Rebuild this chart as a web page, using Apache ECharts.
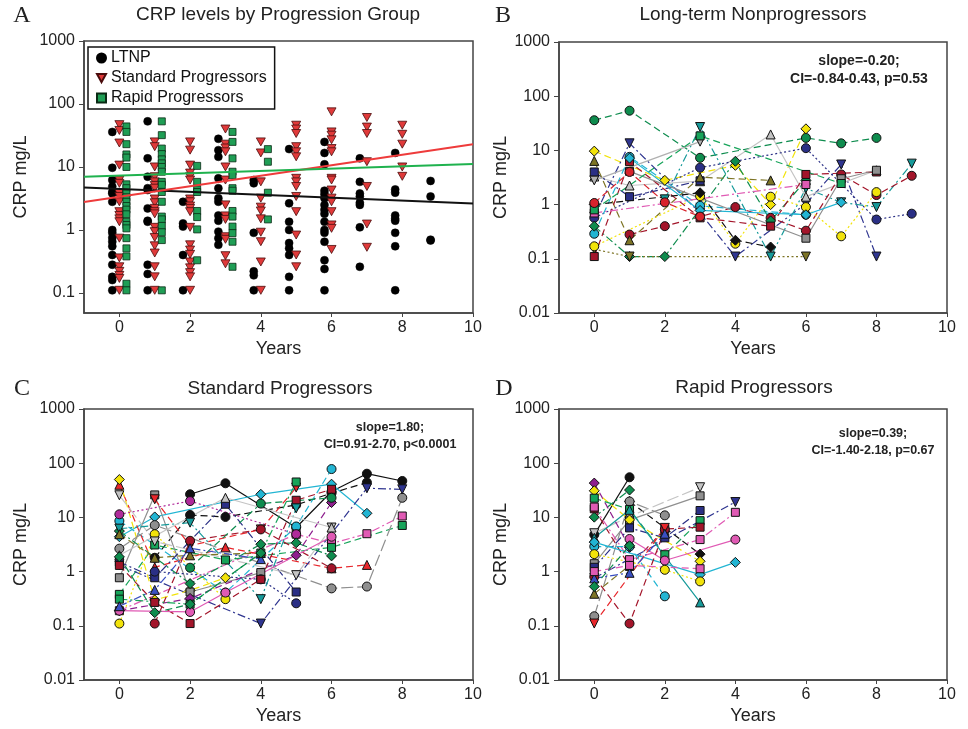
<!DOCTYPE html>
<html lang="en">
<head>
<meta charset="UTF-8">
<title>CRP levels by progression group</title>
<script src="https://cdn.jsdelivr.net/npm/echarts@6/dist/echarts.min.js"></script>
<style>
  html,body{margin:0;padding:0;background:#fff;}
  #main{width:968px;height:729px;}
</style>
</head>
<body>
<div id="main"></div>
<script>
// ---- data ----
var years = [0, 1, 2, 3, 4, 5, 6, 7, 8, 9];
var xTicks = [0, 2, 4, 6, 8, 10];
var yTicksA = [0.1, 1, 10, 100, 1000];
var yTicksBCD = [0.01, 0.1, 1, 10, 100, 1000];

// panel A: CRP values per year, one list per group
var ltnpA = [
  [36, 9.7, 6.2, 4.9, 4, 3.8, 2.8, 1, 0.9, 0.75, 0.65, 0.55, 0.4, 0.28, 0.18, 0.16, 0.11],
  [53, 13.7, 7, 4.6, 4.3, 2.2, 1.4, 1.35, 0.28, 0.2, 0.11],
  [2.8, 1.27, 1.13, 0.4, 0.11],
  [28, 18.5, 14.5, 6.6, 4.6, 3.2, 2.8, 1.7, 1.4, 0.94, 0.74, 0.58],
  [6.2, 5.5, 0.9, 0.22, 0.19, 0.11],
  [19.2, 2.65, 1.35, 1, 0.62, 0.51, 0.4, 0.18, 0.11],
  [25, 16.7, 11, 4.2, 3.7, 3.2, 2.5, 2.1, 1.8, 1.35, 1, 0.9, 0.65, 0.33, 0.24, 0.11],
  [13.7, 5.8, 3.8, 3.4, 2.7, 2.5, 1.1, 0.26],
  [16.7, 4.4, 3.9, 1.7, 1.5, 1.4, 0.9, 0.55, 0.11],
  [6, 3.4, 0.7, 0.68]
];
var spA = [
  [47, 38, 24, 10.7, 6.2, 5.5, 3.8, 3.4, 2.8, 1.95, 1.7, 1.5, 1.35, 0.74, 0.36, 0.26, 0.22, 0.19, 0.17, 0.11],
  [25, 21, 10, 7, 5.8, 5.1, 4.6, 3.1, 2.7, 2.2, 1.95, 1.8, 1.1, 0.94, 0.76, 0.56, 0.43, 0.26, 0.18, 0.11],
  [25, 18.5, 10.7, 8, 7, 6.2, 3.1, 2.8, 2.4, 2.2, 1.95, 1.1, 0.58, 0.48, 0.41, 0.31, 0.25, 0.21, 0.18, 0.11],
  [40, 23, 20, 17.4, 10, 6.2, 2.5, 1.67, 1.47, 0.78, 0.71, 0.39, 0.29],
  [25, 16.7, 5.8, 3.2, 2.3, 2.0, 1.5, 0.92, 0.65, 0.31, 0.11],
  [46, 40, 34, 21, 17.4, 14.5, 6.6, 5.8, 4.9, 3.4, 1.95, 0.83, 0.4, 0.26],
  [75, 36, 32, 27, 19.6, 17.4, 6.6, 6.2, 4.3, 3.2, 2.8, 1.95, 1.2, 1.06, 0.49],
  [61, 43, 34, 12.1, 4.9, 1.24, 0.53],
  [46, 33, 23, 10, 7.1],
  []
];
var rpA = [
  [44, 36, 23, 15.8, 14.1, 10, 5.3, 4.6, 3.8, 3.3, 2.8, 2.4, 2.1, 1.77, 1.35, 1.2, 1.06, 0.74, 0.51, 0.38, 0.14, 0.11],
  [53, 32, 19.6, 16, 13.2, 11.4, 10, 8.4, 5.8, 5.2, 4.0, 2.8, 1.63, 1.47, 1.16, 0.92, 0.69, 0.11],
  [10.4, 5.8, 4.4, 4.0, 2.0, 1.6, 1.02, 0.33],
  [36, 25, 13.7, 8.4, 7.4, 4.6, 4.2, 2.0, 1.63, 1.13, 0.89, 0.65, 0.26],
  [19.2, 12.1, 3.9, 1.47]
];
// regression lines in panel A (value at x=-1 and x=10)
var fitX = [-1, 10];
var fitLtnp = [4.74, 2.64];
var fitSp = [2.78, 23];
var fitRp = [7.0, 11.1];

// panel B: long-term nonprogressors, one list of [year, CRP] per subject
var ltnpSubjects = [
  [[0, 36], [1, 54], [3, 7.3], [6, 17], [7, 13.5], [8, 17]],
  [[0, 9.7], [2, 2.8], [4, 5.3], [5, 1.0], [6, 25]],
  [[0, 0.6], [1, 13.5], [3, 0.7], [4, 0.11], [6, 1.04], [7, 5.5], [8, 0.11]],
  [[2, 1.25], [3, 27], [5, 0.11], [6, 2.0], [7, 1.1], [8, 0.9], [9, 5.7]],
  [[0, 3.3], [1, 2.25], [3, 2.7], [5, 19.7], [6, 1.4], [8, 4.3]],
  [[0, 2.8], [3, 14.5]],
  [[0, 0.57], [3, 4.8], [6, 11], [8, 0.53], [9, 0.68]],
  [[1, 0.28], [2, 0.4], [4, 0.9], [5, 0.57], [6, 0.33], [7, 3.6], [8, 1.5], [9, 3.4]],
  [[0, 4.0], [1, 1.4], [3, 2.75]],
  [[0, 0.29], [1, 7.6], [3, 0.95], [6, 0.65]],
  [[0, 0.4], [1, 0.11], [2, 0.11], [4, 6.3], [5, 0.5], [6, 2.8]],
  [[0, 6.4], [1, 0.22], [3, 3.2], [5, 2.8]],
  [[0, 0.15], [1, 0.11], [6, 0.11]],
  [[0, 0.17], [3, 1.43], [4, 0.19], [5, 1.4], [6, 0.9], [7, 0.26], [8, 1.7]],
  [[0, 0.11], [1, 6.2], [3, 0.57], [5, 0.4], [6, 3.6], [8, 4.0]],
  [[0, 0.7], [6, 2.35]],
  [[0, 1.0], [3, 1.65], [4, 0.22], [5, 0.165]],
  [[1, 4.1], [6, 0.24], [7, 3.0], [8, 4.3]],
  [[0, 0.8], [3, 18.5], [7, 2.45]],
  [[1, 7.2], [3, 0.78], [6, 0.65], [7, 1.1]],
  [[0, 1.07], [1, 4.0], [2, 1.1], [3, 0.6]]
];
var ltnpLooks = ['greenC', 'yellowD', 'navyDT', 'tealDT', 'lgrayT', 'grayDT', 'navyC', 'dredC', 'navyS', 'cyanC',
  'greenD', 'oliveT', 'oliveDT', 'yellowC', 'dredS', 'pinkS', 'blackD', 'grayS', 'greenS', 'cyanD', 'redC'];

// panel C: standard progressors
var spSubjects = [
  [[2, 26.7], [3, 42.6], [5, 6.5], [6, 30], [7, 64], [8, 47]],
  [[1, 1.8], [2, 11.1], [3, 10.2], [5, 17], [6, 28], [7, 44]],
  [[0, 4.4], [1, 10.2], [4, 26.7], [6, 41], [7, 11.9]],
  [[0, 8.6], [3, 0.41], [5, 6.8], [6, 78]],
  [[0, 0.19], [5, 4.9], [6, 3.3], [7, 5.0], [8, 10.6]],
  [[0, 0.38], [1, 3.1], [3, 1.64], [6, 2.8], [8, 7.1]],
  [[0, 2.65], [1, 7.2], [6, 0.49], [7, 0.53], [8, 23]],
  [[0, 40], [1, 1.2], [3, 2.8], [6, 1.15], [7, 1.33]],
  [[0, 1.3], [4, 0.11], [7, 34.5], [8, 33]],
  [[0, 50], [1, 0.3], [2, 0.45], [3, 0.77]],
  [[0, 0.11], [1, 4.9], [3, 0.31]],
  [[0, 0.77], [1, 26], [2, 0.42], [4, 0.96]],
  [[1, 21.6], [2, 3.0], [4, 6.0], [5, 35.5]],
  [[0, 11.4], [2, 20], [5, 4.9]],
  [[0, 1.5], [1, 0.77], [3, 17.5], [5, 0.42]],
  [[1, 1.0], [4, 0.72], [5, 0.26]],
  [[0, 5.6], [2, 0.6], [4, 3.2], [5, 3.4], [6, 1.95]],
  [[0, 0.19], [2, 0.32], [5, 2.0], [6, 18.8]],
  [[0, 25.6], [1, 3.6], [5, 0.86], [6, 6.5]],
  [[0, 1.3], [1, 0.27], [2, 0.11], [4, 0.72], [5, 20.7], [6, 33]],
  [[1, 0.11], [2, 3.7], [4, 6.0], [6, 1.15]],
  [[2, 1.18], [4, 18], [6, 23]],
  [[0, 6.2], [2, 8.0], [4, 0.31], [5, 14.7]],
  [[0, 4.9], [1, 1.8], [2, 2.0], [4, 2.2]],
  [[0, 2.0], [3, 23], [6, 6.5]],
  [[0, 0.31], [2, 0.25], [4, 2.2], [5, 45]],
  [[0, 0.19], [2, 0.18], [3, 0.41], [6, 4.4]],
  [[0, 0.23], [1, 0.46], [2, 2.7], [4, 1.7]],
  [[0, 1.87], [1, 0.175], [2, 0.25], [4, 2.2]]
];
var spLooks = ['blackC', 'blackC2', 'cyanD', 'cyanC', 'pinkS', 'greenS', 'grayC', 'redT', 'navyDT', 'yellowD',
  'yellowC', 'grayS', 'redDT', 'magC', 'navyS', 'navyC', 'greenD', 'purpD', 'lgrayDT', 'dredS',
  'dredC', 'greenC', 'tealDT', 'oliveT', 'lgrayT', 'greenS2', 'pinkC', 'blueT', 'greenD2'];

// panel D: rapid progressors
var rpSubjects = [
  [[0, 4.8], [1, 55]],
  [[1, 19.7], [3, 2.1]],
  [[0, 0.15], [1, 19.7], [2, 10.9]],
  [[0, 1.4], [1, 9], [3, 25]],
  [[0, 5.1], [1, 10.4], [3, 36]],
  [[0, 10.1], [1, 32]],
  [[0, 43], [1, 2.8]],
  [[0, 31], [1, 9], [3, 1.55]],
  [[0, 22.6], [1, 14], [2, 2.05], [3, 8.7]],
  [[0, 14.4], [1, 1.25], [2, 6.1], [3, 6.6]],
  [[0, 1.2], [1, 6.4], [2, 4.2], [3, 13.4]],
  [[0, 0.76], [4, 19.2]],
  [[0, 15.5], [1, 1.66], [3, 3.9], [4, 12.4]],
  [[1, 4.0], [2, 1.6], [4, 3.9]],
  [[0, 2.9], [1, 2.9], [2, 0.35]],
  [[0, 4.2], [1, 13.8], [3, 0.27]],
  [[0, 3.5], [3, 0.88], [4, 1.48]],
  [[0, 0.8], [1, 0.11], [2, 6.0]],
  [[0, 0.11], [2, 6.4]],
  [[0, 2.1], [2, 1.08], [3, 0.66]],
  [[0, 0.39], [1, 1.3]],
  [[0, 0.75], [1, 0.95], [2, 5]],
  [[0, 1.0], [1, 1.3], [3, 1.13]],
  [[0, 0.53], [1, 3.0]]
];
var rpLooks = ['blackC', 'blackD', 'grayC', 'grayS', 'lgrayDT', 'greenD', 'purpD', 'yellowD', 'greenS', 'dredS',
  'navyS', 'navyDT', 'pinkS', 'pinkC', 'cyanC', 'tealT', 'cyanD', 'dredC', 'redDT', 'yellowC',
  'oliveT', 'blueT', 'pinkS2', 'greenD2'];

var titles = ['CRP levels by Progression Group', 'Long-term Nonprogressors', 'Standard Progressors', 'Rapid Progressors'];
var letters = ['A', 'B', 'C', 'D'];
var stats = [
  null,
  ['slope=-0.20;', 'CI=-0.84-0.43, p=0.53'],
  ['slope=1.80;', 'CI=0.91-2.70, p<0.0001'],
  ['slope=0.39;', 'CI=-1.40-2.18, p=0.67']
];

// ---- styles ----
var FONT = 'Liberation Sans, Arial, sans-serif';
var DOWN = 'path://M0,0L12,0L6,11Z';
var DASH = [7, 4], DASHDOT = [8, 3, 2, 3], DOT = [2, 2.5], LONG = [12, 4], DDOT = [8, 3, 2, 3, 2, 3];
var looks = {
  greenC: {c: '#0e8c4e', s: 'circle', d: DASH},
  greenD: {c: '#0e8c4e', s: 'diamond', d: DASHDOT},
  greenD2: {c: '#0e8c4e', s: 'diamond', d: DASH},
  greenS: {c: '#17a45a', s: 'rect', d: DASH},
  greenS2: {c: '#17a45a', s: 'rect', d: DASHDOT},
  yellowD: {c: '#f2e30a', s: 'diamond', d: DASH},
  yellowC: {c: '#f2e30a', s: 'circle', d: DOT},
  navyDT: {c: '#2f3590', s: DOWN, d: DASHDOT},
  navyC: {c: '#2a2f85', s: 'circle', d: DOT},
  navyS: {c: '#2a2f85', s: 'rect', d: DASHDOT},
  tealDT: {c: '#169a9a', s: DOWN, d: DDOT},
  tealT: {c: '#169a9a', s: 'triangle', d: 'solid'},
  lgrayT: {c: '#c4c4c4', s: 'triangle', d: 'solid'},
  lgrayDT: {c: '#c4c4c4', s: DOWN, d: LONG},
  grayDT: {c: '#b0b0b0', s: DOWN, d: 'solid'},
  grayS: {c: '#8f8f8f', s: 'rect', d: 'solid'},
  grayC: {c: '#8f8f8f', s: 'circle', d: LONG},
  dredC: {c: '#a3152a', s: 'circle', d: DASH},
  dredS: {c: '#a3152a', s: 'rect', d: DASH},
  redC: {c: '#d8242c', s: 'circle', d: DASH},
  redT: {c: '#e8262b', s: 'triangle', d: DASH},
  redDT: {c: '#e8262b', s: DOWN, d: DASH},
  cyanC: {c: '#22b5d3', s: 'circle', d: DASH},
  cyanD: {c: '#22b5d3', s: 'diamond', d: 'solid'},
  pinkS: {c: '#e05ab4', s: 'rect', d: DASHDOT},
  pinkS2: {c: '#e05ab4', s: 'rect', d: DASH},
  pinkC: {c: '#e05ab4', s: 'circle', d: 'solid'},
  magC: {c: '#b02a9a', s: 'circle', d: DOT},
  purpD: {c: '#8e1f8e', s: 'diamond', d: DASH},
  oliveT: {c: '#7d7425', s: 'triangle', d: DASH},
  oliveDT: {c: '#7d7425', s: DOWN, d: DOT},
  blackC: {c: '#111111', s: 'circle', d: 'solid'},
  blackC2: {c: '#111111', s: 'circle', d: DASH},
  blackD: {c: '#111111', s: 'diamond', d: DASH},
  blueT: {c: '#3a4fc2', s: 'triangle', d: DASHDOT}
};

var grids = [
  {left: 84, top: 41, width: 389, height: 272},
  {left: 559, top: 42, width: 388, height: 271},
  {left: 84, top: 409, width: 389, height: 271},
  {left: 559, top: 409, width: 388, height: 271}
];
var nameGaps = [54, 46, 54, 46];

function fmt(v) { return String(+(+v).toPrecision(3)); }

var xAxes = [], yAxes = [];
grids.forEach(function (g, i) {
  xAxes.push({
    gridIndex: i, type: 'value', min: -1, max: 10,
    name: 'Years', nameLocation: 'middle', nameGap: 27,
    nameTextStyle: {fontSize: 18, color: '#222', fontFamily: FONT},
    axisLine: {onZero: false, lineStyle: {color: '#444', width: 1.5}},
    axisTick: {length: 4, customValues: xTicks, lineStyle: {color: '#444'}},
    axisLabel: {customValues: xTicks, fontSize: 16, color: '#222', fontFamily: FONT, margin: 7},
    splitLine: {show: false}
  });
  var yt = i === 0 ? yTicksA : yTicksBCD;
  yAxes.push({
    gridIndex: i, type: 'log', logBase: 10, min: i === 0 ? 0.048 : 0.01, max: 1000,
    name: 'CRP mg/L', nameLocation: 'middle', nameGap: nameGaps[i],
    nameTextStyle: {fontSize: 18, color: '#222', fontFamily: FONT},
    axisLine: {show: true, onZero: false, lineStyle: {color: '#444', width: 1.5}},
    axisTick: {show: true, length: 5, customValues: yt, lineStyle: {color: '#444'}},
    axisLabel: {customValues: yt, fontSize: 16, color: '#222', fontFamily: FONT, margin: 9, formatter: fmt},
    minorTick: {show: false},
    splitLine: {show: false}
  });
});

function spread(byYear, off) {
  var out = [];
  byYear.forEach(function (vals, i) {
    vals.forEach(function (v) { out.push([years[i] + off, v]); });
  });
  return out;
}
function fitLine(vals) { return fitX.map(function (x, i) { return [x, vals[i]]; }); }

var series = [
  {name: 'LTNP', type: 'scatter', xAxisIndex: 0, yAxisIndex: 0, symbol: 'circle', symbolSize: 8,
    itemStyle: {color: '#000', borderColor: '#000', borderWidth: 0.5, opacity: 1}, data: spread(ltnpA, -0.2)},
  {name: 'Standard Progressors', type: 'scatter', xAxisIndex: 0, yAxisIndex: 0, symbol: DOWN, symbolSize: [9, 8],
    itemStyle: {color: '#e03a3a', borderColor: '#4a0c0c', borderWidth: 0.8, opacity: 1}, data: spread(spA, 0)},
  {name: 'Rapid Progressors', type: 'scatter', xAxisIndex: 0, yAxisIndex: 0, symbol: 'rect', symbolSize: 7,
    itemStyle: {color: '#1f9e55', borderColor: '#0a2a14', borderWidth: 0.8, opacity: 1}, data: spread(rpA, 0.2)},
  {type: 'line', xAxisIndex: 0, yAxisIndex: 0, symbol: 'none', z: 5, silent: true,
    lineStyle: {color: '#111', width: 2}, data: fitLine(fitLtnp)},
  {type: 'line', xAxisIndex: 0, yAxisIndex: 0, symbol: 'none', z: 5, silent: true,
    lineStyle: {color: '#ee3b3b', width: 2}, data: fitLine(fitSp)},
  {type: 'line', xAxisIndex: 0, yAxisIndex: 0, symbol: 'none', z: 5, silent: true,
    lineStyle: {color: '#1fb24e', width: 2}, data: fitLine(fitRp)}
];

function addSubjects(list, lookNames, idx) {
  list.forEach(function (pts, k) {
    var lk = looks[lookNames[k % lookNames.length]];
    var size = lk.s === 'rect' ? 8 : (lk.s === 'diamond' ? 10 : 9);
    series.push({
      type: 'line', xAxisIndex: idx, yAxisIndex: idx, data: pts,
      symbol: lk.s, symbolSize: size, showAllSymbol: true, silent: true,
      itemStyle: {color: lk.c, borderColor: '#111', borderWidth: 1},
      lineStyle: {color: lk.c, width: 1.2, type: lk.d}
    });
  });
}
addSubjects(ltnpSubjects, ltnpLooks, 1);
addSubjects(spSubjects, spLooks, 2);
addSubjects(rpSubjects, rpLooks, 3);

// titles, panel letters and statistics as text
var graphic = [];
var titlePos = [[278, 15], [753, 15], [280, 389], [754, 388]];
var letterPos = [[22, 16], [503, 16], [22, 389], [504, 389]];
var statPos = [null, [859, 61, 14], [390, 428, 12.5], [873, 434, 12.5]];
titles.forEach(function (t, i) {
  graphic.push({type: 'text', x: titlePos[i][0], y: titlePos[i][1],
    style: {text: t, fill: '#222', font: '19px ' + FONT, textAlign: 'center', textVerticalAlign: 'middle'}});
  graphic.push({type: 'text', x: letterPos[i][0], y: letterPos[i][1],
    style: {text: letters[i], fill: '#222', font: '24px Liberation Serif, Times New Roman, serif', textAlign: 'center', textVerticalAlign: 'middle'}});
  if (stats[i]) {
    var p = statPos[i];
    stats[i].forEach(function (line, j) {
      graphic.push({type: 'text', x: p[0], y: p[1] + j * (p[2] + 4),
        style: {text: line, fill: '#222', font: 'bold ' + p[2] + 'px ' + FONT, textAlign: 'center', textVerticalAlign: 'middle'}});
    });
  }
});

var myChart = echarts.init(document.getElementById('main'));
myChart.setOption({
  animation: false,
  backgroundColor: '#fff',
  grid: grids.map(function (g) {
    return {left: g.left, top: g.top, width: g.width, height: g.height, show: true,
      borderColor: '#444', borderWidth: 1.5, backgroundColor: 'transparent'};
  }),
  xAxis: xAxes,
  yAxis: yAxes,
  legend: {
    data: ['LTNP', 'Standard Progressors', 'Rapid Progressors'],
    orient: 'vertical', left: 88, top: 47, selectedMode: false,
    backgroundColor: '#fff', borderColor: '#111', borderWidth: 1.5, borderRadius: 0,
    padding: [3, 8, 3, 8], itemGap: 4, itemWidth: 9, itemHeight: 9,
    textStyle: {fontSize: 16, color: '#111', fontFamily: FONT, lineHeight: 16}
  },
  graphic: graphic,
  series: series
});
</script>
</body>
</html>
